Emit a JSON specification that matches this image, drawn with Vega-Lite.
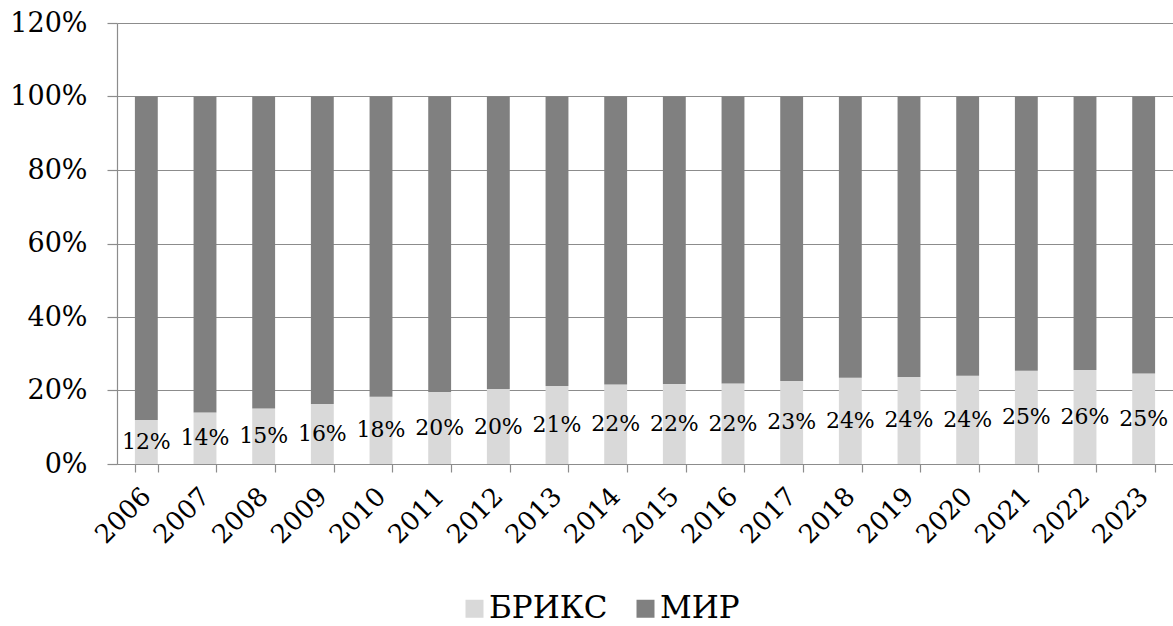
{
  "$schema": "https://vega.github.io/schema/vega-lite/v6.json",
  "autosize": {"type": "none"},
  "width": 1056,
  "height": 441,
  "padding": {"left": 117, "top": 23, "right": 0, "bottom": 162},
  "background": "white",
  "config": {
    "font": "DejaVu Serif",
    "view": {"stroke": null},
    "axis": {"labelFont": "DejaVu Serif", "labelColor": "#000000", "domainColor": "#8c8c8c", "tickColor": "#8c8c8c", "gridColor": "#8c8c8c", "domainWidth": 1.2, "tickWidth": 1.2, "gridWidth": 1.2},
    "legend": {"labelFont": "DejaVu Serif"},
    "text": {"font": "DejaVu Serif"}
  },
  "data": {
    "values": [
      {"year": "2006", "series": "БРИКС", "value": 0.120},
      {"year": "2007", "series": "БРИКС", "value": 0.140},
      {"year": "2008", "series": "БРИКС", "value": 0.151},
      {"year": "2009", "series": "БРИКС", "value": 0.163},
      {"year": "2010", "series": "БРИКС", "value": 0.183},
      {"year": "2011", "series": "БРИКС", "value": 0.196},
      {"year": "2012", "series": "БРИКС", "value": 0.204},
      {"year": "2013", "series": "БРИКС", "value": 0.212},
      {"year": "2014", "series": "БРИКС", "value": 0.216},
      {"year": "2015", "series": "БРИКС", "value": 0.218},
      {"year": "2016", "series": "БРИКС", "value": 0.219},
      {"year": "2017", "series": "БРИКС", "value": 0.226},
      {"year": "2018", "series": "БРИКС", "value": 0.235},
      {"year": "2019", "series": "БРИКС", "value": 0.237},
      {"year": "2020", "series": "БРИКС", "value": 0.240},
      {"year": "2021", "series": "БРИКС", "value": 0.254},
      {"year": "2022", "series": "БРИКС", "value": 0.256},
      {"year": "2023", "series": "БРИКС", "value": 0.246},
      {"year": "2006", "series": "МИР", "value": 0.880},
      {"year": "2007", "series": "МИР", "value": 0.860},
      {"year": "2008", "series": "МИР", "value": 0.849},
      {"year": "2009", "series": "МИР", "value": 0.837},
      {"year": "2010", "series": "МИР", "value": 0.817},
      {"year": "2011", "series": "МИР", "value": 0.804},
      {"year": "2012", "series": "МИР", "value": 0.796},
      {"year": "2013", "series": "МИР", "value": 0.788},
      {"year": "2014", "series": "МИР", "value": 0.784},
      {"year": "2015", "series": "МИР", "value": 0.782},
      {"year": "2016", "series": "МИР", "value": 0.781},
      {"year": "2017", "series": "МИР", "value": 0.774},
      {"year": "2018", "series": "МИР", "value": 0.765},
      {"year": "2019", "series": "МИР", "value": 0.763},
      {"year": "2020", "series": "МИР", "value": 0.760},
      {"year": "2021", "series": "МИР", "value": 0.746},
      {"year": "2022", "series": "МИР", "value": 0.744},
      {"year": "2023", "series": "МИР", "value": 0.754}
    ]
  },
  "encoding": {
    "x": {
      "field": "year",
      "type": "ordinal",
      "scale": {"paddingInner": 0.61, "paddingOuter": 0.305},
      "axis": {
        "title": null,
        "labelAngle": -45,
        "labelAlign": "right",
        "labelBaseline": "middle",
        "labelFontSize": 26,
        "labelPadding": 20,
        "tickBand": "extent",
        "tickSize": 8,
        "grid": false
      }
    }
  },
  "layer": [
    {
      "mark": {"type": "bar"},
      "encoding": {
        "y": {
          "field": "value",
          "type": "quantitative",
          "stack": "zero",
          "scale": {"domain": [0, 1.2], "nice": false},
          "axis": {
            "title": null,
            "format": ".0%",
            "values": [0, 0.2, 0.4, 0.6, 0.8, 1.0, 1.2],
            "labelFontSize": 27,
            "labelPadding": 20,
            "tickSize": 10,
            "grid": true
          }
        },
        "color": {
          "field": "series",
          "type": "nominal",
          "scale": {"domain": ["БРИКС", "МИР"], "range": ["#d9d9d9", "#808080"]},
          "legend": {
            "title": null,
            "orient": "none",
            "legendX": 342,
            "legendY": 570,
            "direction": "horizontal",
            "symbolType": "square",
            "symbolSize": 324,
            "symbolStrokeWidth": 0,
            "labelFontSize": 31,
            "labelColor": "#000000",
            "labelOffset": -1,
            "columnPadding": 22
          }
        },
        "order": {"field": "series", "type": "nominal", "sort": "ascending"}
      }
    },
    {
      "transform": [
        {"filter": "datum.series === 'БРИКС'"},
        {"calculate": "datum.value / 2", "as": "mid"}
      ],
      "mark": {"type": "text", "fontSize": 22, "color": "#000000", "baseline": "middle"},
      "encoding": {
        "y": {"field": "mid", "type": "quantitative"},
        "text": {"field": "value", "type": "quantitative", "format": ".0%"}
      }
    }
  ]
}
